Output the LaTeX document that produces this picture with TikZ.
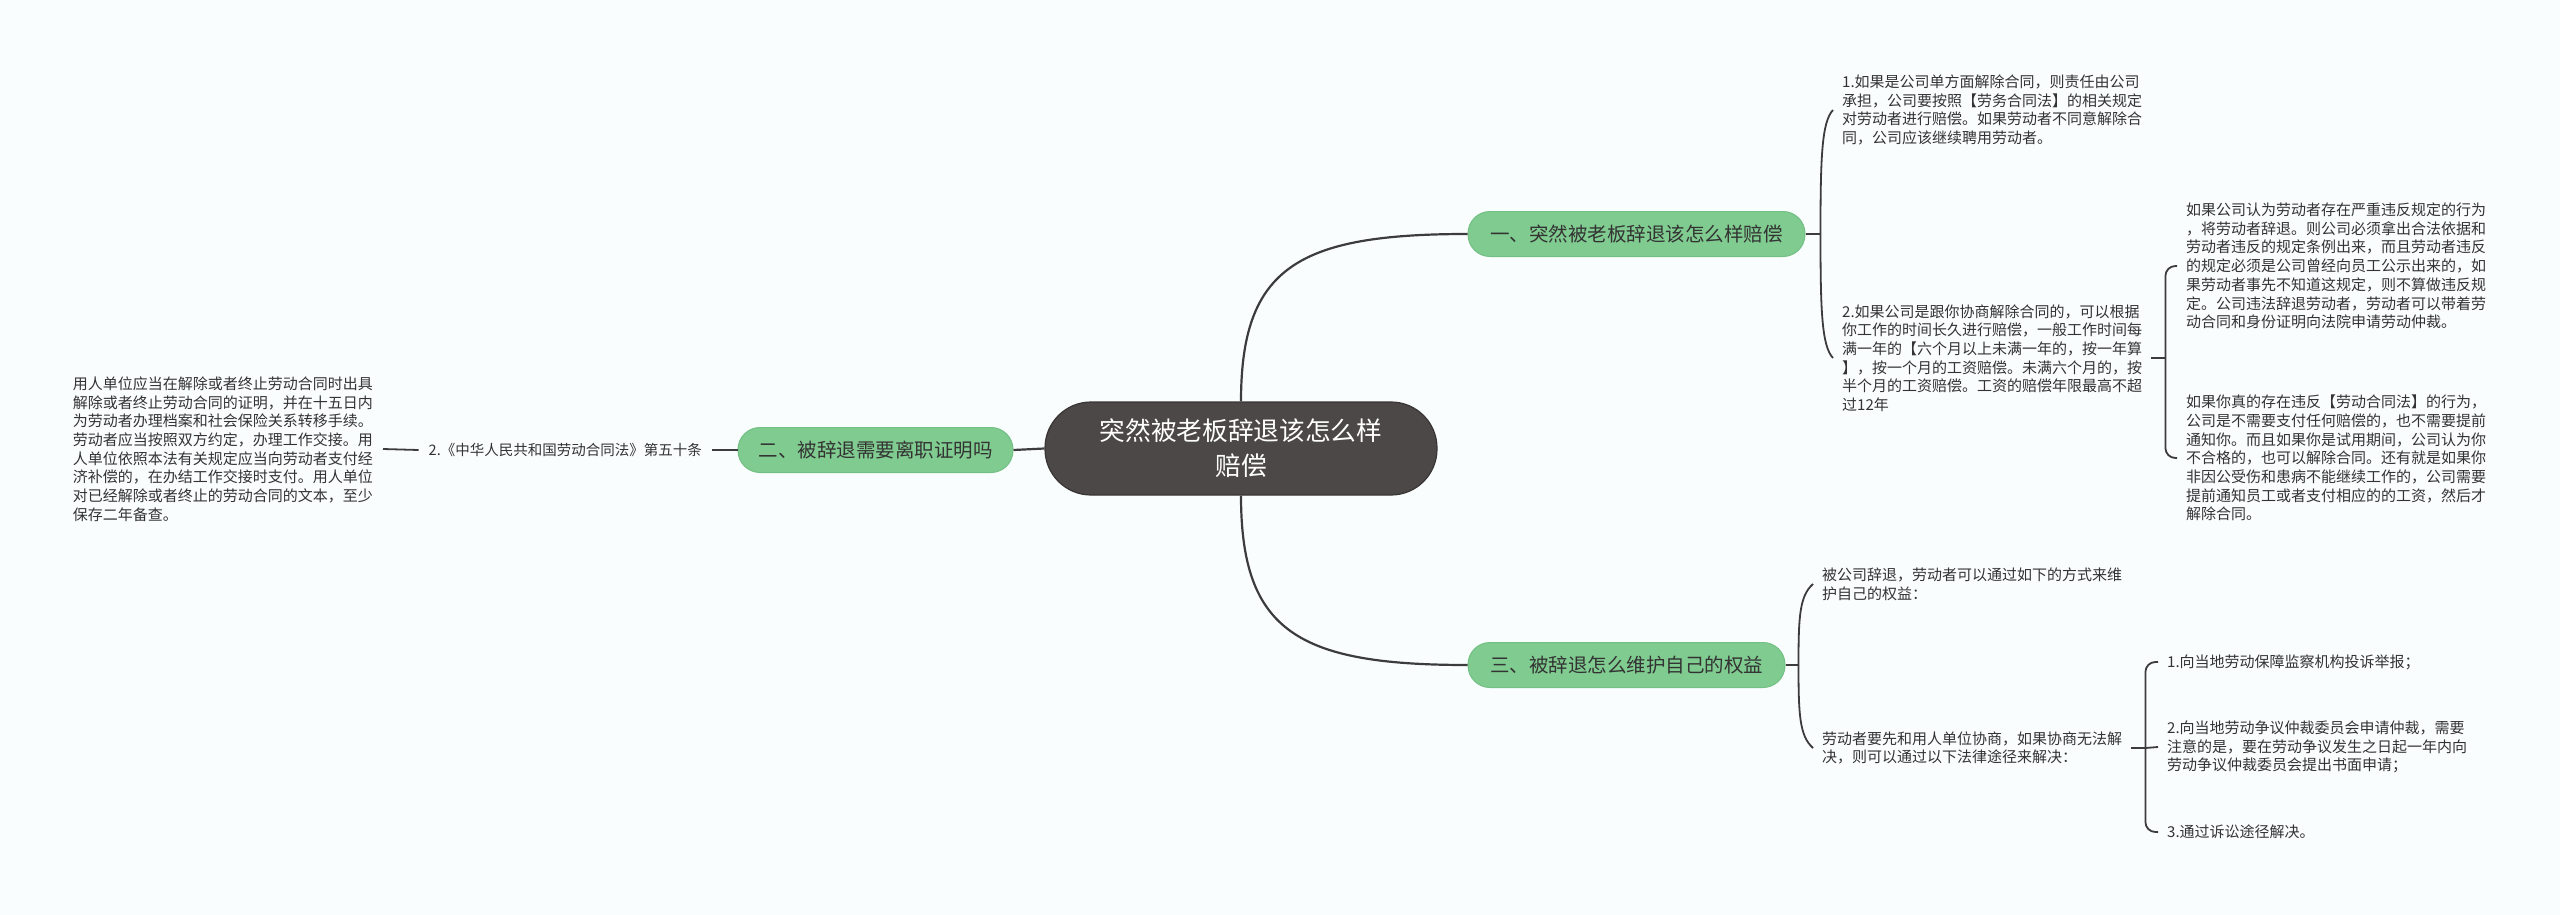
\documentclass[tikz,border=0pt]{standalone}
\usepackage{fontspec}
\setmainfont{Noto Sans CJK SC}
\usetikzlibrary{calc}
\definecolor{bg}{HTML}{FAFDFE}
\definecolor{ctr}{HTML}{4D4848}
\definecolor{ctrd}{HTML}{3A3535}
\definecolor{grn}{HTML}{80CB90}
\definecolor{grnd}{HTML}{72C083}
\definecolor{ln}{HTML}{3C3C3C}
\definecolor{txt}{HTML}{333333}
\begin{document}
\begin{tikzpicture}[x=1pt,y=-1pt,
 central/.style={fill=ctr, draw=ctrd, line width=1.2pt, rounded corners=46pt, minimum width=392pt, minimum height=93pt, text=white, align=center, font=\fontsize{25.7}{35}\selectfont, inner sep=0pt},
 topic/.style={fill=grn, draw=grnd, line width=1pt, rounded corners=22pt, minimum height=45pt, text=txt, font=\fontsize{19.5}{24}\selectfont, inner sep=0pt},
 leaf/.style={text=txt, align=left, font=\fontsize{15}{18.7}\selectfont, inner xsep=9pt, inner ysep=2pt},
 link/.style={draw=ln, line width=2.2pt},
 brace/.style={draw=ln, line width=1.8pt},
]
\fill[bg] (0,0) rectangle (2560,915);
\useasboundingbox (0,0) rectangle (2560,915);

\node[central] (c) at (1241,448.5) {突然被老板辞退该怎么样\\赔偿};
\node[topic, minimum width=337pt] (b1) at (1636.5,234) {一、突然被老板辞退该怎么样赔偿};
\node[topic, minimum width=275pt] (b2) at (875.5,450) {二、被辞退需要离职证明吗};
\node[topic, minimum width=317pt] (b3) at (1626.5,665) {三、被辞退怎么维护自己的权益};

\node[leaf, anchor=west] (a1) at (1833,110) {1.如果是公司单方面解除合同，则责任由公司\\承担，公司要按照【劳务合同法】的相关规定\\对劳动者进行赔偿。如果劳动者不同意解除合\\同，公司应该继续聘用劳动者。};
\node[leaf, anchor=west] (a2) at (1833,358) {2.如果公司是跟你协商解除合同的，可以根据\\你工作的时间长久进行赔偿，一般工作时间每\\满一年的【六个月以上未满一年的，按一年算\\】，按一个月的工资赔偿。未满六个月的，按\\半个月的工资赔偿。工资的赔偿年限最高不超\\过12年};
\node[leaf, anchor=west] (a21) at (2177,266) {如果公司认为劳动者存在严重违反规定的行为\\，将劳动者辞退。则公司必须拿出合法依据和\\劳动者违反的规定条例出来，而且劳动者违反\\的规定必须是公司曾经向员工公示出来的，如\\果劳动者事先不知道这规定，则不算做违反规\\定。公司违法辞退劳动者，劳动者可以带着劳\\动合同和身份证明向法院申请劳动仲裁。};
\node[leaf, anchor=west] (a22) at (2177,458) {如果你真的存在违反【劳动合同法】的行为，\\公司是不需要支付任何赔偿的，也不需要提前\\通知你。而且如果你是试用期间，公司认为你\\不合格的，也可以解除合同。还有就是如果你\\非因公受伤和患病不能继续工作的，公司需要\\提前通知员工或者支付相应的的工资，然后才\\解除合同。};

\node[leaf, anchor=east, font=\fontsize{14.5}{18}\selectfont, inner xsep=10pt] (bl) at (712,450) {2.《中华人民共和国劳动合同法》第五十条};
\node[leaf, anchor=east, inner xsep=10pt] (bt) at (383,449) {用人单位应当在解除或者终止劳动合同时出具\\解除或者终止劳动合同的证明，并在十五日内\\为劳动者办理档案和社会保险关系转移手续。\\劳动者应当按照双方约定，办理工作交接。用\\人单位依照本法有关规定应当向劳动者支付经\\济补偿的，在办结工作交接时支付。用人单位\\对已经解除或者终止的劳动合同的文本，至少\\保存二年备查。};

\node[leaf, anchor=west] (c1) at (1813,584) {被公司辞退，劳动者可以通过如下的方式来维\\护自己的权益：};
\node[leaf, anchor=west] (c2) at (1813,748) {劳动者要先和用人单位协商，如果协商无法解\\决，则可以通过以下法律途径来解决：};
\node[leaf, anchor=west] (c21) at (2158,662) {1.向当地劳动保障监察机构投诉举报；};
\node[leaf, anchor=west] (c22) at (2158,747) {2.向当地劳动争议仲裁委员会申请仲裁，需要\\注意的是，要在劳动争议发生之日起一年内向\\劳动争议仲裁委员会提出书面申请；};
\node[leaf, anchor=west] (c23) at (2158,832) {3.通过诉讼途径解决。};

% center links
\draw[link] (c.west) -- (b2.east);
\draw[link] (b2.west) -- (bl.east);
\draw[brace] (bl.west) -- (bt.east);
\draw[link] (c.north) .. controls ($(c.north)!0.8!(c.north |- b1.west)$) and ($(c.north |- b1.west)!0.25!(b1.west)$) .. (b1.west);
\draw[link] (c.south) .. controls ($(c.south)!0.8!(c.south |- b3.west)$) and ($(c.south |- b3.west)!0.25!(b3.west)$) .. (b3.west);

% branch 1 brace
\draw[brace] (b1.east) -- ++(15,0) coordinate (k1);
\draw[brace] (k1) .. controls ($(k1)!0.6!(k1 |- a1.west)$) and ($(k1 |- a1.west)+(1,12)$) .. (a1.west);
\draw[brace] (k1) .. controls ($(k1)!0.6!(k1 |- a2.west)$) and ($(k1 |- a2.west)+(1,-12)$) .. (a2.west);

% sub brace of a2
\draw[brace] (a2.east) -- ++(14,0) coordinate (k2);
\draw[brace, rounded corners=10pt] (k2) |- (a21.west);
\draw[brace, rounded corners=10pt] (k2) |- (a22.west);

% branch 3 brace
\draw[brace] (b3.east) -- ++(13,0) coordinate (k3);
\draw[brace] (k3) .. controls ($(k3)!0.6!(k3 |- c1.west)$) and ($(k3 |- c1.west)+(1,12)$) .. (c1.west);
\draw[brace] (k3) .. controls ($(k3)!0.6!(k3 |- c2.west)$) and ($(k3 |- c2.west)+(1,-12)$) .. (c2.west);

% sub brace of c2
\draw[brace] (c2.east) -- ++(14,0) coordinate (k4);
\draw[brace, rounded corners=10pt] (k4) |- (c21.west);
\draw[brace] (k4) -- (c22.west);
\draw[brace, rounded corners=10pt] (k4) |- (c23.west);
\end{tikzpicture}
\end{document}
